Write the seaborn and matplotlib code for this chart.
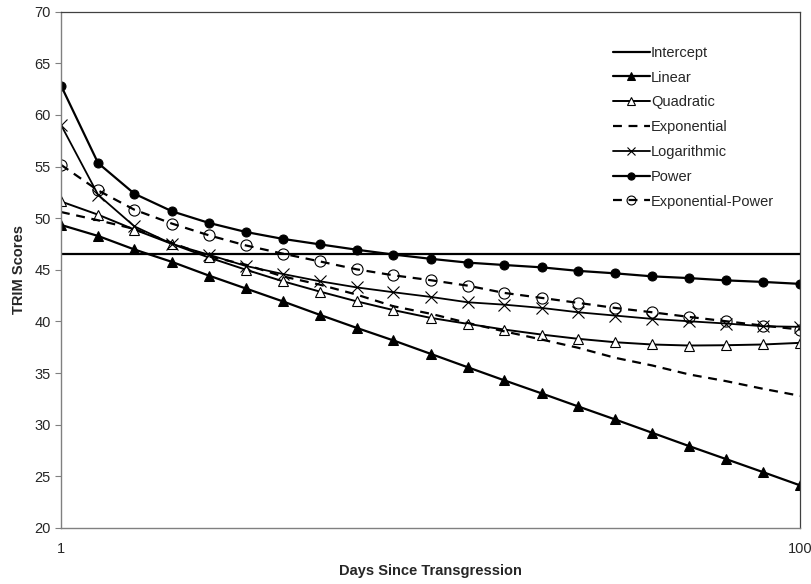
import matplotlib

matplotlib.use("Agg")
import matplotlib.pyplot as plt
import seaborn as sns
from matplotlib.ticker import FixedLocator, NullLocator

# days (log-spaced points used for the fitted curves)
days = [1, 1.26, 1.58, 2, 2.51, 3.16, 3.98, 5.01, 6.31, 7.94, 10,
        12.6, 15.8, 20, 25.1, 31.6, 39.8, 50.1, 63.1, 79.4, 100]

intercept = 46.57
linear = [49.35, 48.28, 46.97, 45.76, 44.45, 43.2, 41.95, 40.65, 39.38, 38.16, 36.87,
          35.57, 34.31, 33.03, 31.77, 30.51, 29.22, 27.93, 26.67, 25.41, 24.13]
quadratic = [51.62, 50.34, 48.9, 47.5, 46.2, 45.02, 43.9, 42.9, 41.95, 41.1, 40.35,
             39.77, 39.22, 38.73, 38.32, 37.99, 37.77, 37.67, 37.7, 37.77, 37.93]
exponential = [50.6, 49.8, 48.96, 47.6, 46.31, 45.5, 44.37, 43.57, 42.6, 41.47, 40.75,
               39.86, 39.05, 38.25, 37.45, 36.48, 35.74, 34.87, 34.22, 33.48, 32.8]
logarithmic = [59.04, 52.27, 49.21, 47.5, 46.47, 45.38, 44.6, 43.9, 43.3, 42.83, 42.38,
               41.86, 41.63, 41.31, 40.89, 40.57, 40.25, 40.02, 39.8, 39.54, 39.48]
power = [62.85, 55.34, 52.37, 50.66, 49.55, 48.67, 48.0, 47.47, 46.95, 46.48, 46.07,
         45.7, 45.47, 45.24, 44.9, 44.66, 44.37, 44.2, 43.98, 43.83, 43.64]
exp_power = [55.17, 52.69, 50.82, 49.47, 48.35, 47.37, 46.57, 45.82, 45.05, 44.47, 44.0,
             43.47, 42.77, 42.28, 41.8, 41.31, 40.89, 40.44, 40.02, 39.6, 39.22]

sns.set_style("ticks")
plt.rcParams["font.family"] = ["Liberation Sans", "DejaVu Sans"]

fig = plt.figure(figsize=(8.11, 5.84), dpi=100)
ax = fig.add_axes([0.0752, 0.0959, 0.9113, 0.8841])

ax.axhline(intercept, color="black", lw=1.6, label="Intercept")
sns.lineplot(x=days, y=linear, ax=ax, color="black", lw=1.6, marker="^", ms=7,
             mfc="black", mec="black", label="Linear")
sns.lineplot(x=days, y=quadratic, ax=ax, color="black", lw=1.4, marker="^", ms=7.5,
             mfc="white", mec="black", mew=0.8, label="Quadratic")
sns.lineplot(x=days, y=exponential, ax=ax, color="black", lw=1.6, ls=(0, (4, 3)),
             label="Exponential")
sns.lineplot(x=days, y=logarithmic, ax=ax, color="black", lw=1.3, marker="x", ms=8,
             mfc="black", mec="black", mew=0.8, label="Logarithmic")
sns.lineplot(x=days, y=power, ax=ax, color="black", lw=1.6, marker="o", ms=6.5,
             mfc="black", mec="black", label="Power")
sns.lineplot(x=days, y=exp_power, ax=ax, color="black", lw=1.6, ls=(0, (4, 3)),
             marker="o", ms=8, mfc="none", mec="black", mew=0.8,
             label="Exponential-Power")

ax.set_xscale("log")
ax.set_xlim(1, 100)
ax.set_ylim(20, 70)
ax.xaxis.set_major_locator(FixedLocator([1, 100]))
ax.xaxis.set_minor_locator(NullLocator())
ax.set_xticklabels(["1", "100"])
ax.set_yticks(range(20, 71, 5))
ax.tick_params(axis="x", length=0, pad=10, labelsize=10.5)
ax.tick_params(axis="y", length=4, width=0.8, labelsize=10.5, color="#808080")
for side in ["top", "right"]:
    ax.spines[side].set_visible(True)
    ax.spines[side].set_color("#404040")
    ax.spines[side].set_linewidth(0.9)
for side in ["left", "bottom"]:
    ax.spines[side].set_color("#808080")
    ax.spines[side].set_linewidth(1.0)

ax.set_xlabel("Days Since Transgression", fontweight="bold", fontsize=10.5, labelpad=6)
ax.set_ylabel("TRIM Scores", fontweight="bold", fontsize=10.5, labelpad=6)

ax.legend(loc="upper left", bbox_to_anchor=(0.747, 0.934), frameon=False,
          fontsize=10.5, handlelength=2.5, handletextpad=0.1, labelspacing=0.74,
          borderaxespad=0, borderpad=0, markerscale=0.8)

fig.savefig("out.png", dpi=100)
